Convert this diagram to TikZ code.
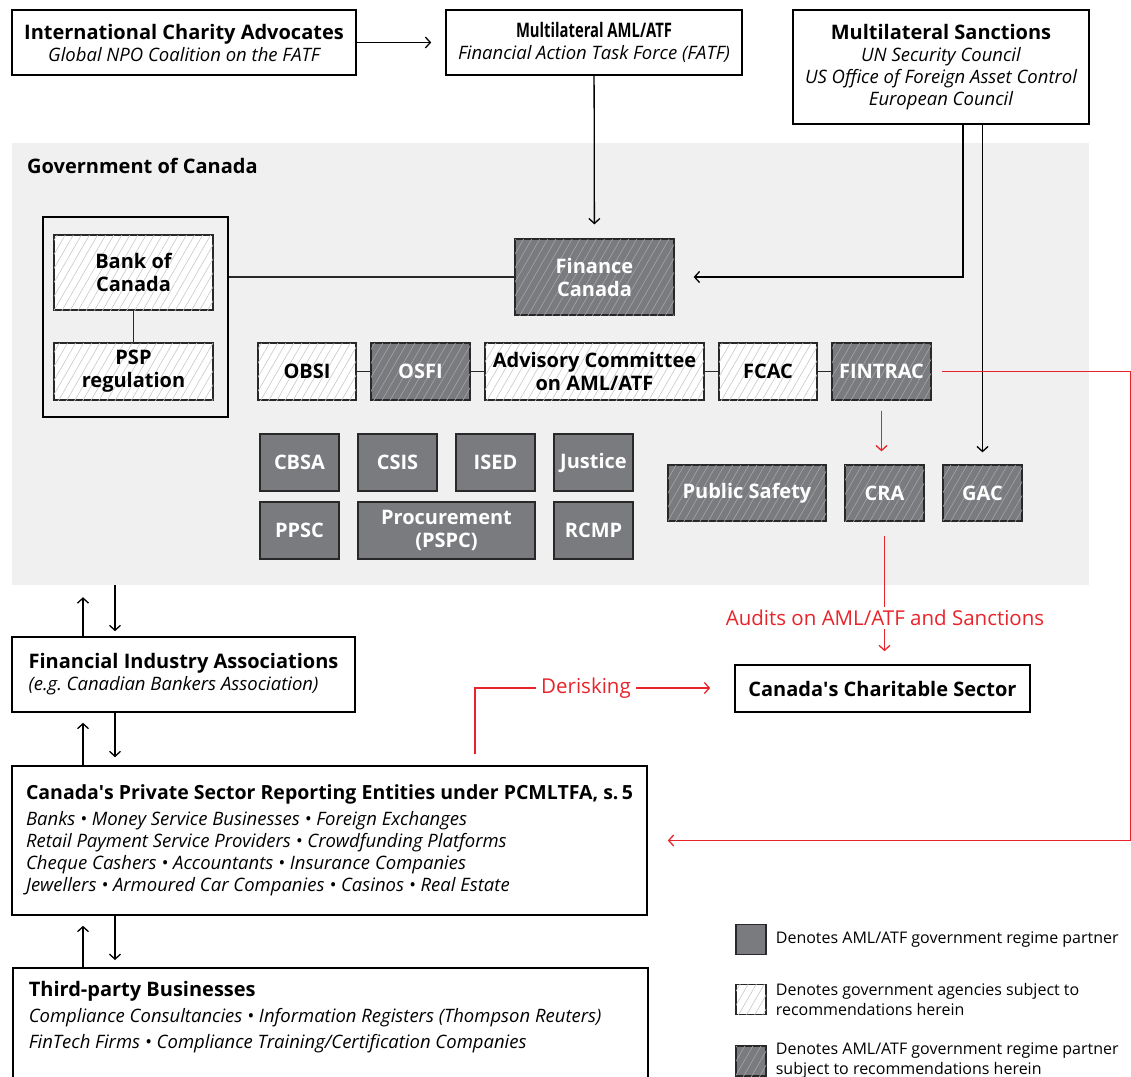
\documentclass[tikz,border=0pt]{standalone}
\usepackage{fontspec}
\setmainfont{Open Sans}
\newfontfamily\condfont{Open Sans}[FakeStretch=0.74]
\usetikzlibrary{arrows.meta, patterns.meta, positioning}
\definecolor{govGray}{RGB}{240,240,240}
\definecolor{partnerGray}{RGB}{122,123,127}
\definecolor{edgeGray}{RGB}{40,40,40}
\definecolor{hatchLight}{RGB}{200,200,200}
\definecolor{hatchDark}{RGB}{165,166,169}
\definecolor{alertRed}{RGB}{232,35,42}
\newcommand{\titlefont}{\fontsize{20}{22}\selectfont\bfseries}
\newcommand{\subfont}{\fontsize{18.5}{22}\selectfont\itshape}

\begin{document}
\begin{tikzpicture}[
    x=1pt, y=-1pt,
    every node/.style={inner sep=0pt},
    ext/.style={draw=black, line width=1.6pt, fill=white, align=center, font=\fontsize{18.5}{22}\selectfont},
    agency/.style={draw=edgeGray, line width=1.3pt, align=center, font=\fontsize{20}{23}\selectfont\bfseries},
    partner/.style={agency, fill=partnerGray, text=white},
    subject/.style={agency, fill=white, postaction={pattern={Lines[angle=60, distance=7pt, line width=0.6pt]}, pattern color=hatchLight}},
    partnersubject/.style={partner, postaction={pattern={Lines[angle=60, distance=7pt, line width=0.6pt]}, pattern color=hatchDark}},
    flow/.style={draw=black, line width=1.3pt, -{Straight Barb[length=5pt, width=11pt]}},
    link/.style={draw=edgeGray, line width=1.3pt},
    redline/.style={draw=alertRed, line width=1.3pt},
    redflow/.style={redline, -{Straight Barb[length=5pt, width=11pt]}},
    redlabel/.style={font=\fontsize{20.5}{22}\selectfont, text=alertRed},
    keytext/.style={align=left, font=\fontsize{16}{20}\selectfont},
]
\useasboundingbox (0,0) rectangle (1131,1076);
\clip (0,0) rectangle (1131,1076);
% EXTERNAL BODIES
\node[ext, minimum width=344, minimum height=65] (ica) at (184,42.5) {{\titlefont International Charity Advocates}\\{\subfont Global NPO Coalition on the FATF}};
\node[ext, minimum width=296, minimum height=65] (aml) at (594,42.5) {{\condfont\titlefont Multilateral AML/ATF}\\{\subfont Financial Action Task Force (FATF)}};
\node[ext, minimum width=296, minimum height=114] (sanc) at (941,67) {{\titlefont Multilateral Sanctions}\\{\subfont UN Security Council}\\{\subfont US Office of Foreign Asset Control}\\{\subfont European Council}};
\draw[flow, shorten >=14pt] (ica) -- (aml);
% GOVERNMENT OF CANADA
\node[fill=govGray, minimum width=1077, minimum height=442] (gov) at (550.5,364) {};
\node[anchor=west, font=\titlefont] (govlabel) at (27,166) {Government of Canada};
\node[draw=black, line width=1.6pt, minimum width=185, minimum height=200] (bocframe) at (135.5,317) {};
\node[subject, minimum width=159, minimum height=75] (boc) at (133.5,272.5) {Bank of\\Canada};
\node[subject, minimum width=159, minimum height=57] (psp) at (133.5,371.5) {PSP\\regulation};
\node[partnersubject, minimum width=159, minimum height=76] (finance) at (594.5,277) {Finance\\Canada};
\draw[link] (boc) -- (psp);
\draw[link] (finance.west -| bocframe.east) -- (finance.west);
\draw[flow, shorten >=14pt] (aml) -- (finance);
\draw[flow, shorten >=19pt] ([xshift=22pt]sanc.south) |- (finance.east);
% agencies, first row
\node[subject, minimum width=98, minimum height=57] (obsi) at (307,371.5) {OBSI};
\node[partnersubject, minimum width=99, minimum height=57] (osfi) at (420.5,371.5) {OSFI};
\node[subject, minimum width=219, minimum height=57] (advisory) at (594.5,371.5) {Advisory Committee\\on AML/ATF};
\node[subject, minimum width=98, minimum height=57] (fcac) at (768,371.5) {FCAC};
\node[partnersubject, minimum width=99, minimum height=57] (fintrac) at (881.5,371.5) {FINTRAC};
\draw[link] (obsi) -- (osfi);
\draw[link] (osfi) -- (advisory);
\draw[link] (advisory) -- (fcac);
\draw[link] (fcac) -- (fintrac);
% partners
\node[partner, minimum width=79, minimum height=57] (cbsa) at (299.5,462.5) {CBSA};
\node[partner, minimum width=79, minimum height=57] (csis) at (397.5,462.5) {CSIS};
\node[partner, minimum width=79, minimum height=57] (ised) at (495.5,462.5) {ISED};
\node[partner, minimum width=79, minimum height=57] (justice) at (593.5,462.5) {Justice};
\node[partner, minimum width=79, minimum height=57] (ppsc) at (299.5,530.5) {PPSC};
\node[partner, minimum width=177, minimum height=57] (procurement) at (446.5,530.5) {Procurement\\(PSPC)};
\node[partner, minimum width=79, minimum height=57] (rcmp) at (593.5,530.5) {RCMP};
\node[partnersubject, minimum width=158, minimum height=56] (pubsafety) at (747,493) {Public Safety};
\node[partnersubject, minimum width=79, minimum height=56] (cra) at (884.5,493) {CRA};
\node[partnersubject, minimum width=79, minimum height=56] (gac) at (982.5,493) {GAC};
\draw[flow, shorten >=12pt] (sanc.south -| gac.north) -- (gac.north);
\draw[redflow, shorten <=10pt, shorten >=13pt] (fintrac.south) -- (fintrac.south |- cra.north);
% PRIVATE SECTOR
\node[ext, align=left, minimum width=343, minimum height=75] (fia) at (183.5,674.5) {{\titlefont Financial Industry Associations}\\{\subfont (e.g.\ Canadian Bankers Association)}};
\node[ext, align=left, minimum width=635, minimum height=149] (psre) at (329.5,840.5) {{\fontsize{19.5}{22}\selectfont\bfseries Canada\textquotesingle s Private Sector Reporting Entities under PCMLTFA, s.\,5}\\[4pt]
  {\subfont Banks • Money Service Businesses • Foreign Exchanges}\\
  {\subfont Retail Payment Service Providers • Crowdfunding Platforms}\\
  {\subfont Cheque Cashers • Accountants • Insurance Companies}\\
  {\subfont Jewellers • Armoured Car Companies • Casinos • Real Estate}};
\node[ext, anchor=north west, inner xsep=16, inner ysep=13] (tpb) at (12,967) {\begin{minipage}[t][150pt][t]{603pt}\fontsize{18.5}{26}\selectfont
  {\titlefont Third-party Businesses}\\
  {\itshape Compliance Consultancies • Information Registers (Thompson Reuters)}\\
  {\itshape FinTech Firms • Compliance Training/Certification Companies}
  \end{minipage}};
\coordinate (upx) at (83,0);
\coordinate (downx) at (115,0);
\draw[flow, shorten >=12pt] (fia.north -| upx) -- (gov.south -| upx);
\draw[flow, shorten >=5pt] (gov.south -| downx) -- (fia.north -| downx);
\draw[flow, shorten >=10pt] (psre.north -| upx) -- (fia.south -| upx);
\draw[flow, shorten >=8pt] (fia.south -| downx) -- (psre.north -| downx);
\draw[flow, shorten >=10pt] (tpb.north -| upx) -- (psre.south -| upx);
\draw[flow, shorten >=7pt] (psre.south -| downx) -- (tpb.north -| downx);
% CHARITABLE SECTOR
\node[ext, minimum width=295, minimum height=47, font=\titlefont] (charity) at (882.5,688.5) {Canada\textquotesingle s Charitable Sector};
\node[redlabel, inner ysep=3] (audits) at (885,618) {Audits on AML/ATF and Sanctions};
\node[redlabel, inner xsep=5] (derisk) at (586,688) {Derisking};
\coordinate (deriskx) at (475,0);
\draw[redline, shorten <=14pt] (cra.south) -- (cra.south |- audits.north);
\draw[redflow, shorten >=13pt] (audits.south -| cra.south) -- (charity.north -| cra.south);
\draw[redline, shorten <=11pt] (psre.north -| deriskx) |- (derisk.west);
\draw[redflow, shorten >=24pt] (derisk.east) -- (derisk.east -| charity.west);
\draw[redflow, shorten <=10pt, shorten >=20pt] (fintrac.east) -- ++(199,0) |- (psre.east);
% LEGEND
\node[partner, minimum width=30, minimum height=30] (keypartner) at (751,939.5) {};
\node[subject, minimum width=30, minimum height=30] (keysubject) at (751,999.5) {};
\node[partnersubject, minimum width=30, minimum height=30] (keyboth) at (751,1061) {};
\node[keytext, right=9pt of keypartner] (keypartnertext) {Denotes AML/ATF government regime partner};
\node[keytext, right=9pt of keysubject] (keysubjecttext) {Denotes government agencies subject to\\recommendations herein};
\node[keytext, right=9pt of keyboth] (keybothtext) {Denotes AML/ATF government regime partner\\subject to recommendations herein};
\end{tikzpicture}
\end{document}
